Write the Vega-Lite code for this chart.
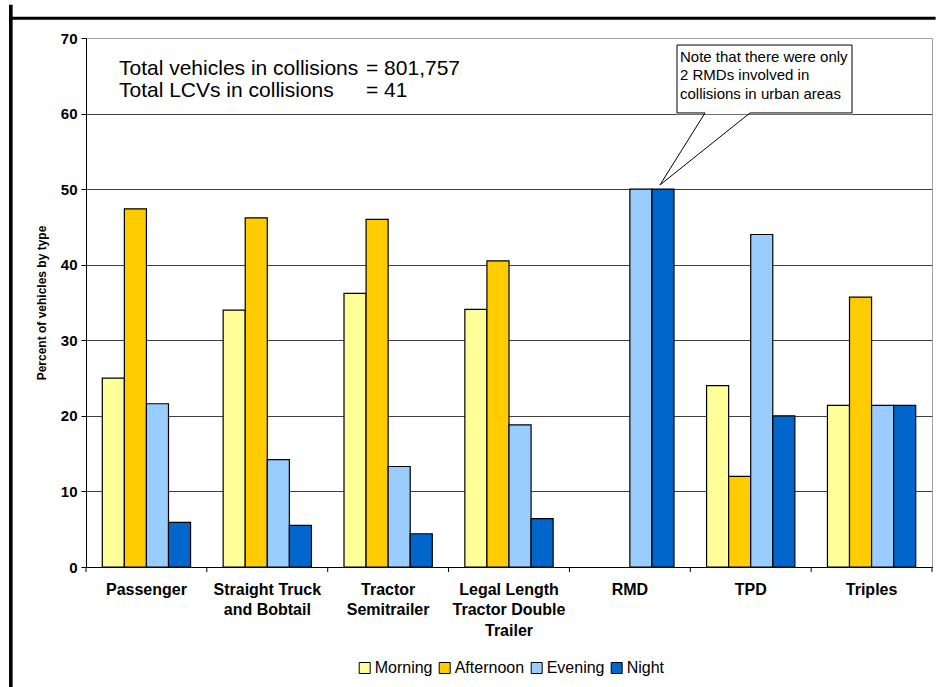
{
  "$schema": "https://vega.github.io/schema/vega-lite/v6.json",
  "width": 846,
  "height": 529,
  "autosize": {"type": "none"},
  "padding": {"left": 86, "top": 38, "right": 8, "bottom": 120},
  "background": "white",
  "config": {
    "font": "Liberation Sans",
    "view": {"stroke": "#a0a0a0", "strokeWidth": 1}
  },
  "datasets": {
    "bars": [
      {"type": "Passenger", "period": "Morning", "pct": 25.0},
      {"type": "Passenger", "period": "Afternoon", "pct": 47.4},
      {"type": "Passenger", "period": "Evening", "pct": 21.6},
      {"type": "Passenger", "period": "Night", "pct": 5.9},
      {"type": "Straight Truck and Bobtail", "period": "Morning", "pct": 34.0},
      {"type": "Straight Truck and Bobtail", "period": "Afternoon", "pct": 46.2},
      {"type": "Straight Truck and Bobtail", "period": "Evening", "pct": 14.2},
      {"type": "Straight Truck and Bobtail", "period": "Night", "pct": 5.5},
      {"type": "Tractor Semitrailer", "period": "Morning", "pct": 36.2},
      {"type": "Tractor Semitrailer", "period": "Afternoon", "pct": 46.0},
      {"type": "Tractor Semitrailer", "period": "Evening", "pct": 13.3},
      {"type": "Tractor Semitrailer", "period": "Night", "pct": 4.4},
      {"type": "Legal Length Tractor Double Trailer", "period": "Morning", "pct": 34.1},
      {"type": "Legal Length Tractor Double Trailer", "period": "Afternoon", "pct": 40.5},
      {"type": "Legal Length Tractor Double Trailer", "period": "Evening", "pct": 18.8},
      {"type": "Legal Length Tractor Double Trailer", "period": "Night", "pct": 6.4},
      {"type": "RMD", "period": "Morning", "pct": null},
      {"type": "RMD", "period": "Afternoon", "pct": null},
      {"type": "RMD", "period": "Evening", "pct": 50.0},
      {"type": "RMD", "period": "Night", "pct": 50.0},
      {"type": "TPD", "period": "Morning", "pct": 24.0},
      {"type": "TPD", "period": "Afternoon", "pct": 12.0},
      {"type": "TPD", "period": "Evening", "pct": 44.0},
      {"type": "TPD", "period": "Night", "pct": 20.0},
      {"type": "Triples", "period": "Morning", "pct": 21.4},
      {"type": "Triples", "period": "Afternoon", "pct": 35.7},
      {"type": "Triples", "period": "Evening", "pct": 21.4},
      {"type": "Triples", "period": "Night", "pct": 21.4}
    ],
    "ticks": [
      {"u": 0, "v": 0, "v2": -0.66},
      {"u": 1, "v": 0, "v2": -0.66},
      {"u": 2, "v": 0, "v2": -0.66},
      {"u": 3, "v": 0, "v2": -0.66},
      {"u": 4, "v": 0, "v2": -0.66},
      {"u": 5, "v": 0, "v2": -0.66},
      {"u": 6, "v": 0, "v2": -0.66},
      {"u": 7, "v": 0, "v2": -0.66}
    ],
    "frame": [
      {"u": -0.637, "u2": 7.03, "v": 72.4, "v2": 72.8},
      {"u": -0.637, "u2": -0.607, "v": 74.4, "v2": -16.2}
    ],
    "calloutBox": [
      {"u": 4.89, "u2": 6.338, "v": 59.9, "v2": 69.07}
    ],
    "calloutOutline": [
      {"i": 0, "u": 4.89, "v": 69.07},
      {"i": 1, "u": 6.338, "v": 69.07},
      {"i": 2, "u": 6.338, "v": 60.08},
      {"i": 3, "u": 5.494, "v": 60.08},
      {"i": 4, "u": 4.749, "v": 50.55},
      {"i": 5, "u": 5.122, "v": 60.08},
      {"i": 6, "u": 4.89, "v": 60.08},
      {"i": 7, "u": 4.89, "v": 69.07}
    ],
    "totals": [
      {"text": "Total vehicles in collisions", "u": 0.273, "v": 65.17},
      {"text": "= 801,757", "u": 2.317, "v": 65.17},
      {"text": "Total LCVs in collisions", "u": 0.273, "v": 62.19},
      {"text": "= 41", "u": 2.317, "v": 62.19}
    ],
    "note": [
      {"text": "Note that there were only", "u": 4.915, "v": 66.83},
      {"text": "2 RMDs involved in", "u": 4.915, "v": 64.38},
      {"text": "collisions in urban areas", "u": 4.915, "v": 61.93}
    ]
  },
  "resolve": {"scale": {"x": "independent"}, "axis": {"x": "independent"}},
  "layer": [
    {
      "data": {"name": "bars"},
      "mark": {"type": "bar", "stroke": "black", "strokeWidth": 1.2},
      "encoding": {
        "x": {
          "field": "type",
          "type": "nominal",
          "sort": null,
          "scale": {"paddingInner": 0, "paddingOuter": 0},
          "axis": {
            "title": null,
            "labelAngle": 0,
            "ticks": false,
            "domainColor": "black",
            "labelColor": "black",
            "labelFontSize": 16,
            "labelFontWeight": "bold",
            "labelLineHeight": 20.5,
            "labelPadding": 14,
            "labelBaseline": "top",
            "labelLimit": 0,
            "labelExpr": "datum.label == 'Straight Truck and Bobtail' ? ['Straight Truck', 'and Bobtail'] : datum.label == 'Tractor Semitrailer' ? ['Tractor', 'Semitrailer'] : datum.label == 'Legal Length Tractor Double Trailer' ? ['Legal Length', 'Tractor Double', 'Trailer'] : datum.label"
          }
        },
        "xOffset": {
          "field": "period",
          "type": "nominal",
          "sort": ["Morning", "Afternoon", "Evening", "Night"],
          "scale": {"paddingInner": 0, "paddingOuter": 0.738}
        },
        "y": {
          "field": "pct",
          "type": "quantitative",
          "scale": {"domain": [0, 70], "nice": false},
          "axis": {
            "title": "Percent of vehicles by type",
            "titleFontSize": 12,
            "titleFontWeight": "bold",
            "titleColor": "black",
            "titlePadding": 12,
            "values": [0, 10, 20, 30, 40, 50, 60, 70],
            "labelFontSize": 15,
            "labelFontWeight": "bold",
            "labelColor": "black",
            "labelPadding": 4,
            "tickSize": 5,
            "tickColor": "black",
            "domainColor": "black",
            "grid": true,
            "gridColor": {"condition": {"test": "datum.value == 70", "value": "#a0a0a0"}, "value": "#404040"},
            "gridWidth": 1
          }
        },
        "color": {
          "field": "period",
          "type": "nominal",
          "sort": ["Morning", "Afternoon", "Evening", "Night"],
          "scale": {
            "domain": ["Morning", "Afternoon", "Evening", "Night"],
            "range": ["#FFFF99", "#FFCC00", "#99CCFF", "#0066CC"]
          },
          "legend": {
            "title": null,
            "orient": "none",
            "legendX": 270.7,
            "legendY": 622,
            "direction": "horizontal",
            "symbolType": "square",
            "symbolSize": 121,
            "symbolStrokeColor": "black",
            "symbolStrokeWidth": 1,
            "labelFontSize": 16,
            "labelColor": "black",
            "labelOffset": 2,
            "columnPadding": 4
          }
        }
      }
    },
    {
      "layer": [
        {
          "data": {"name": "ticks"},
          "mark": {"type": "rule", "color": "black", "strokeWidth": 1},
          "encoding": {
            "x": {"field": "u", "type": "quantitative", "scale": {"domain": [0, 7], "nice": false, "zero": false}, "axis": null},
            "y": {"field": "v", "type": "quantitative"},
            "y2": {"field": "v2"}
          }
        },
        {
          "data": {"name": "frame"},
          "mark": {"type": "rect", "fill": "black", "stroke": null, "clip": false},
          "encoding": {
            "x": {"field": "u", "type": "quantitative"},
            "x2": {"field": "u2"},
            "y": {"field": "v", "type": "quantitative"},
            "y2": {"field": "v2"}
          }
        },
        {
          "data": {"name": "calloutBox"},
          "mark": {"type": "rect", "fill": "white", "stroke": null},
          "encoding": {
            "x": {"field": "u", "type": "quantitative"},
            "x2": {"field": "u2"},
            "y": {"field": "v", "type": "quantitative"},
            "y2": {"field": "v2"}
          }
        },
        {
          "data": {"name": "calloutOutline"},
          "mark": {"type": "line", "color": "black", "strokeWidth": 1},
          "encoding": {
            "x": {"field": "u", "type": "quantitative"},
            "y": {"field": "v", "type": "quantitative"},
            "order": {"field": "i", "type": "quantitative"}
          }
        },
        {
          "data": {"name": "totals"},
          "mark": {"type": "text", "align": "left", "baseline": "alphabetic", "fontSize": 21, "color": "black"},
          "encoding": {
            "x": {"field": "u", "type": "quantitative"},
            "y": {"field": "v", "type": "quantitative"},
            "text": {"field": "text"}
          }
        },
        {
          "data": {"name": "note"},
          "mark": {"type": "text", "align": "left", "baseline": "alphabetic", "fontSize": 15, "color": "black"},
          "encoding": {
            "x": {"field": "u", "type": "quantitative"},
            "y": {"field": "v", "type": "quantitative"},
            "text": {"field": "text"}
          }
        }
      ]
    }
  ]
}
